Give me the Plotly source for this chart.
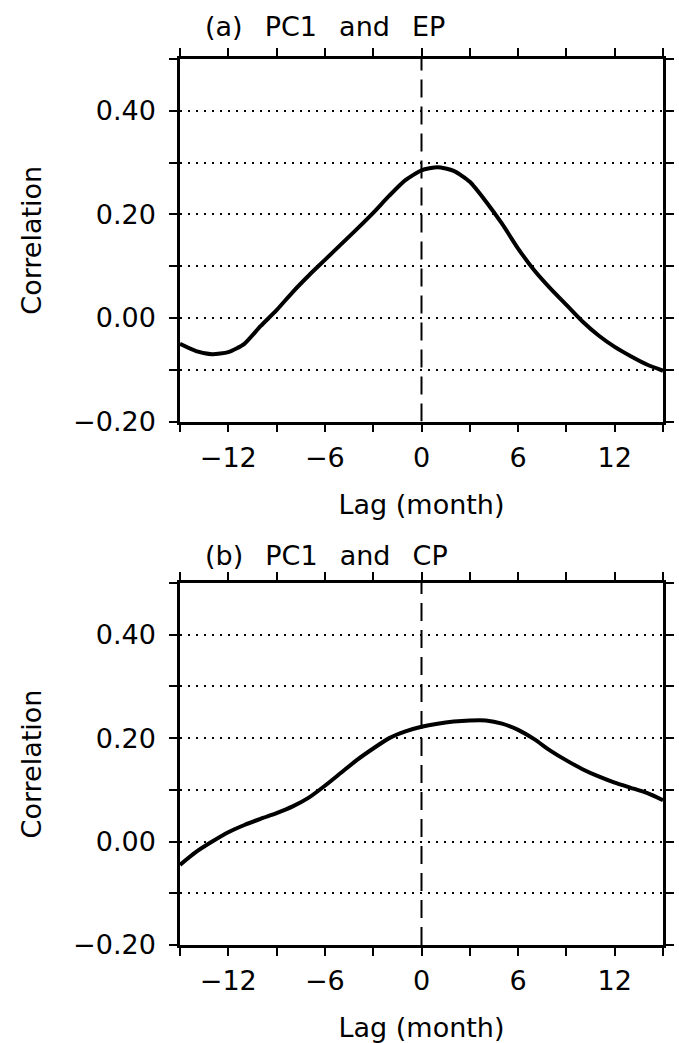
import plotly.graph_objects as go

lags = list(range(-15, 16))
corr_ep = [-0.050, -0.064, -0.070, -0.066, -0.050, -0.016, 0.015, 0.050, 0.082, 0.112,
           0.142, 0.172, 0.203, 0.236, 0.266, 0.285, 0.291, 0.284, 0.263, 0.225,
           0.182, 0.134, 0.092, 0.057, 0.025, -0.007, -0.034, -0.056, -0.074, -0.090, -0.102]
corr_cp = [-0.045, -0.020, 0.000, 0.018, 0.032, 0.044, 0.055, 0.068, 0.085, 0.108,
           0.133, 0.158, 0.180, 0.200, 0.213, 0.222, 0.228, 0.232, 0.234, 0.234,
           0.228, 0.216, 0.198, 0.176, 0.157, 0.140, 0.126, 0.114, 0.104, 0.094, 0.080]

panel_titles = ["(a)\u2002 PC1\u2002 and\u2002 EP", "(b)\u2002 PC1\u2002 and\u2002 CP"]
x_tickvals = [-15, -12, -9, -6, -3, 0, 3, 6, 9, 12, 15]
x_ticktext = ["", "\u221212", "", "\u22126", "", "0", "", "6", "", "12", ""]
y_tickvals = [-0.2, -0.1, 0.0, 0.1, 0.2, 0.3, 0.4, 0.5]
y_ticktext = ["\u22120.20", "", "0.00", "", "0.20", "", "0.40", ""]
x_title = "Lag (month)"
y_title = "Correlation"

W, H = 679, 1043
FONT = "DejaVu Sans"

fig = go.Figure()
fig.add_trace(go.Scatter(x=lags, y=corr_ep, mode="lines",
                         line=dict(color="black", width=4, shape="spline", smoothing=0.6),
                         xaxis="x", yaxis="y", showlegend=False))
fig.add_trace(go.Scatter(x=lags, y=corr_cp, mode="lines",
                         line=dict(color="black", width=4, shape="spline", smoothing=0.6),
                         xaxis="x2", yaxis="y2", showlegend=False))

xdom = [180 / W, 663 / W]
ydom_a = [1 - 421.5 / H, 1 - 59 / H]
ydom_b = [1 - 945 / H, 1 - 583 / H]

def xax(domain, anchor):
    return dict(domain=domain, anchor=anchor, range=[-15, 15], tickmode="array",
                tickvals=x_tickvals, ticktext=x_ticktext, showgrid=False, zeroline=False,
                showline=True, linecolor="black", linewidth=2.5, mirror="ticks",
                ticks="outside", ticklen=8, tickwidth=2, tickcolor="black", automargin=False,
                tickfont=dict(family=FONT, size=27, color="black"), ticklabelstandoff=2,
                title=dict(text=x_title, font=dict(family=FONT, size=27, color="black"), standoff=24))

def yax(domain, anchor):
    return dict(domain=domain, anchor=anchor, range=[-0.2, 0.5], tickmode="array",
                tickvals=y_tickvals, ticktext=y_ticktext, showgrid=True, gridcolor="black",
                gridwidth=2, griddash="2px,6px", zeroline=False,
                showline=True, linecolor="black", linewidth=2.5, mirror="ticks",
                ticks="outside", ticklen=8, tickwidth=2, tickcolor="black", automargin=False,
                tickfont=dict(family=FONT, size=27, color="black"), ticklabelstandoff=8,
                title=dict(text=y_title, font=dict(family=FONT, size=27, color="black"), standoff=24))

fig.update_layout(
    template="none",
    width=W, height=H, margin=dict(l=0, r=0, t=0, b=0, pad=0),
    paper_bgcolor="white", plot_bgcolor="white",
    xaxis=xax(xdom, "y"), yaxis=yax(ydom_a, "x"),
    xaxis2=xax(xdom, "y2"), yaxis2=yax(ydom_b, "x2"),
    font=dict(family=FONT, color="black"),
)

for xr, yr in (("x", "y"), ("x2", "y2")):
    fig.add_shape(type="line", xref=xr, yref=yr, x0=0, x1=0, y0=-0.2, y1=0.5,
                  line=dict(color="black", width=2, dash="18px,9px"), layer="below")

fig.add_annotation(text=panel_titles[0], xref="paper", yref="paper", x=203 / W, y=1 - 27 / H,
                   xanchor="left", yanchor="middle", showarrow=False,
                   font=dict(family=FONT, size=27, color="black"))
fig.add_annotation(text=panel_titles[1], xref="paper", yref="paper", x=203 / W, y=1 - 555 / H,
                   xanchor="left", yanchor="middle", showarrow=False,
                   font=dict(family=FONT, size=27, color="black"))

fig.write_html("out.html", config={"displayModeBar": False},
               post_script="document.body.style.margin='0';"
                           "document.body.style.overflow='hidden';"
                           "document.documentElement.style.overflow='hidden';")
